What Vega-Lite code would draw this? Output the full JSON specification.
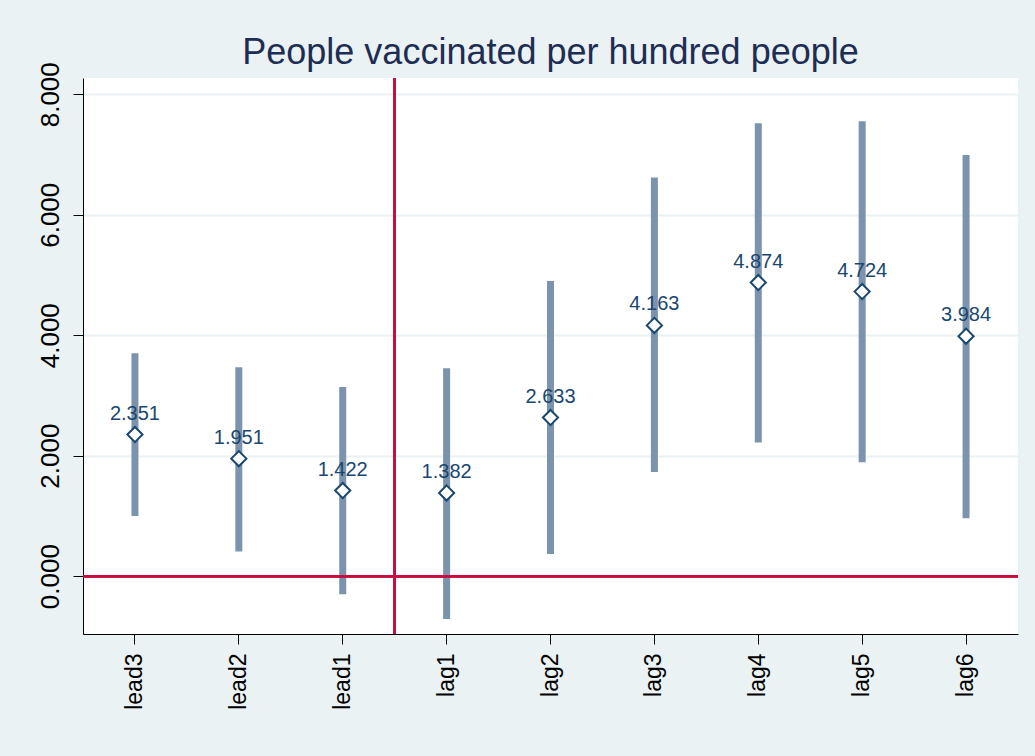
{
  "$schema": "https://vega.github.io/schema/vega-lite/v6.json",
  "autosize": "none",
  "width": 935,
  "height": 556,
  "padding": {"left": 83, "top": 78, "right": 17, "bottom": 122},
  "background": "#EAF2F3",
  "config": {
    "font": "Liberation Sans",
    "view": {"fill": "#FFFFFF", "stroke": null}
  },
  "title": {
    "text": "People vaccinated per hundred people",
    "fontSize": 36,
    "fontWeight": "normal",
    "color": "#1E2D53",
    "anchor": "middle",
    "frame": "group",
    "baseline": "alphabetic",
    "offset": -38
  },
  "data": {
    "values": [
      {"term": "lead3", "b": 2.351, "lo": 1.00, "hi": 3.70},
      {"term": "lead2", "b": 1.951, "lo": 0.41, "hi": 3.47},
      {"term": "lead1", "b": 1.422, "lo": -0.30, "hi": 3.14},
      {"term": "lag1", "b": 1.382, "lo": -0.71, "hi": 3.45},
      {"term": "lag2", "b": 2.633, "lo": 0.37, "hi": 4.90},
      {"term": "lag3", "b": 4.163, "lo": 1.73, "hi": 6.62},
      {"term": "lag4", "b": 4.874, "lo": 2.22, "hi": 7.52},
      {"term": "lag5", "b": 4.724, "lo": 1.89, "hi": 7.55},
      {"term": "lag6", "b": 3.984, "lo": 0.96, "hi": 6.99}
    ]
  },
  "encoding": {
    "x": {
      "field": "term",
      "type": "nominal",
      "sort": null,
      "scale": {"type": "band", "paddingInner": 0, "paddingOuter": 0},
      "axis": {
        "title": null,
        "labelAngle": -90,
        "labelAlign": "right",
        "labelBaseline": "middle",
        "labelFontSize": 23,
        "labelColor": "#000000",
        "labelPadding": 9,
        "tickSize": 10,
        "tickColor": "#000000",
        "domainColor": "#000000",
        "domainWidth": 1,
        "grid": false
      }
    }
  },
  "layer": [
    {
      "mark": {"type": "rule", "strokeWidth": 7, "color": "#7B93AD", "strokeCap": "butt"},
      "encoding": {
        "y": {
          "field": "lo",
          "type": "quantitative",
          "scale": {"domain": [-0.96, 8.27], "nice": false, "zero": false},
          "axis": {
            "title": null,
            "values": [0, 2, 4, 6, 8],
            "format": ".3f",
            "labelAngle": -90,
            "labelAlign": "center",
            "labelBaseline": "bottom",
            "labelFontSize": 26,
            "labelColor": "#000000",
            "labelPadding": 10,
            "tickSize": 10,
            "tickColor": "#000000",
            "domainColor": "#000000",
            "domainWidth": 1,
            "grid": true,
            "gridColor": "#EAF2F3",
            "gridWidth": 2
          }
        },
        "y2": {"field": "hi"}
      }
    },
    {
      "mark": {"type": "rule", "color": "#C90D3E", "strokeWidth": 2},
      "encoding": {"y": {"datum": 0}, "x": null}
    },
    {
      "mark": {"type": "rule", "color": "#C90D3E", "strokeWidth": 2},
      "encoding": {"x": {"datum": "lag1", "bandPosition": 0}}
    },
    {
      "mark": {"type": "point", "shape": "diamond", "filled": true, "fill": "#FFFFFF", "stroke": "#1A476F", "strokeWidth": 2, "size": 230, "opacity": 1},
      "encoding": {"y": {"field": "b", "type": "quantitative"}}
    },
    {
      "mark": {"type": "text", "fontSize": 20, "color": "#1A476F", "baseline": "alphabetic", "dy": -15},
      "encoding": {
        "y": {"field": "b", "type": "quantitative"},
        "text": {"field": "b", "type": "quantitative", "format": ".3f"}
      }
    }
  ]
}
